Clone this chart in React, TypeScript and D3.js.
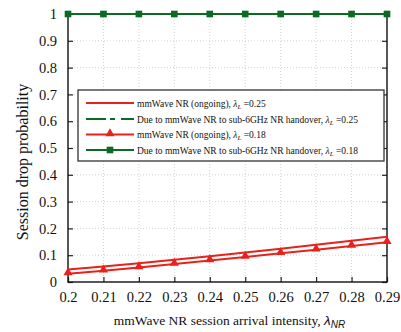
import { useEffect, useRef } from "react";
import * as d3 from "d3";

const xValues = [0.2, 0.21, 0.22, 0.23, 0.24, 0.25, 0.26, 0.27, 0.28, 0.29];
const ongoing025 = [0.047, 0.058, 0.07, 0.083, 0.096, 0.11, 0.124, 0.139, 0.154, 0.169];
const handover025 = [1, 1, 1, 1, 1, 1, 1, 1, 1, 1];
const ongoing018 = [0.031, 0.042, 0.054, 0.067, 0.08, 0.093, 0.107, 0.12, 0.134, 0.148];
const handover018 = [1, 1, 1, 1, 1, 1, 1, 1, 1, 1];
const yTicks = [0, 0.1, 0.2, 0.3, 0.4, 0.5, 0.6, 0.7, 0.8, 0.9, 1];
const legendNames = [
  "mmWave NR (ongoing),",
  "Due to mmWave NR to sub-6GHz NR handover,",
  "mmWave NR (ongoing),",
  "Due to mmWave NR to sub-6GHz NR handover,",
];
const legendLambda = ["0.25", "0.25", "0.18", "0.18"];

const RED = "#e8221b";
const GREEN = "#0b6b24";
const SERIF = "\"Liberation Serif\", \"Times New Roman\", Times, \"DejaVu Serif\", serif";
const SANS = "\"Liberation Sans\", Arial, sans-serif";

export default function App() {
  const svgRef = useRef<SVGSVGElement | null>(null);

  useEffect(() => {
    document.body.style.margin = "0";
    const svg = d3.select(svgRef.current);
    svg.selectAll("*").remove();
    const width = 401;
    const height = 332;
    const margin = { top: 14, right: 14, bottom: 50, left: 68 };

    const x = d3.scaleLinear().domain([0.2, 0.29]).range([margin.left, width - margin.right]);
    const y = d3.scaleLinear().domain([0, 1]).range([height - margin.bottom, margin.top]);
    const [x0, x1] = x.range();
    const [yb, yt] = y.range();

    svg.attr("width", width).attr("height", height).style("font-family", SERIF);

    // grid
    const grid = svg.append("g").attr("stroke", "#c8c8c8").attr("stroke-width", 0.8).attr("stroke-dasharray", "1,2");
    xValues.slice(1, -1).forEach((v) => {
      grid.append("line").attr("x1", x(v)).attr("x2", x(v)).attr("y1", yb).attr("y2", yt);
    });
    yTicks.slice(1, -1).forEach((v) => {
      grid.append("line").attr("x1", x0).attr("x2", x1).attr("y1", y(v)).attr("y2", y(v));
    });

    // axes (inner ticks)
    const axisStyle = (g: d3.Selection<SVGGElement, unknown, null, undefined>) => {
      g.attr("font-family", null).attr("font-size", 14.5);
      g.select(".domain").remove();
      g.selectAll("line").attr("stroke", "#222").attr("stroke-width", 1.2);
      g.selectAll("text").attr("fill", "#111").style("font-family", SERIF);
    };
    svg.append("g")
      .attr("transform", `translate(${x0},0)`)
      .call(d3.axisLeft(y).tickValues(yTicks).tickFormat(d3.format("")).tickSize(-5).tickPadding(11))
      .call(axisStyle);
    svg.append("g")
      .attr("transform", `translate(${x1},0)`)
      .call(d3.axisRight(y).tickValues(yTicks).tickSize(-5).tickFormat(() => ""))
      .call(axisStyle);
    svg.append("g")
      .attr("transform", `translate(0,${yb})`)
      .call(d3.axisBottom(x).tickValues(xValues).tickFormat(d3.format("")).tickSize(-5).tickPadding(10))
      .call(axisStyle);

    svg.append("rect")
      .attr("x", x0).attr("y", yt).attr("width", x1 - x0).attr("height", yb - yt)
      .attr("fill", "none").attr("stroke", "#111").attr("stroke-width", 1.4);

    const line = d3.line<number>().x((_, i) => x(xValues[i])).y((d) => y(d));

    svg.append("path").datum(ongoing025).attr("d", line).attr("fill", "none").attr("stroke", RED).attr("stroke-width", 2);
    svg.append("path").datum(handover025).attr("d", line).attr("fill", "none").attr("stroke", GREEN).attr("stroke-width", 2).attr("stroke-dasharray", "20,4,5,6");
    svg.append("path").datum(ongoing018).attr("d", line).attr("fill", "none").attr("stroke", RED).attr("stroke-width", 2);
    svg.append("path").datum(handover018).attr("d", line).attr("fill", "none").attr("stroke", GREEN).attr("stroke-width", 2);

    const tri = d3.symbol().type(d3.symbolTriangle).size(36);
    const sq = d3.symbol().type(d3.symbolSquare).size(44);
    svg.append("g").selectAll("path").data(ongoing018).join("path")
      .attr("d", tri).attr("fill", RED)
      .attr("transform", (d, i) => `translate(${x(xValues[i])},${y(d) - 1})`);
    svg.append("g").selectAll("path").data(handover018).join("path")
      .attr("d", sq).attr("fill", GREEN)
      .attr("transform", (d, i) => `translate(${x(xValues[i])},${y(d)})`);

    // legend
    const lg = svg.append("g").attr("transform", "translate(78,90)");
    lg.append("rect").attr("width", 306).attr("height", 71).attr("fill", "#fff").attr("stroke", "#333").attr("stroke-width", 1.3);
    const rowY = [13, 29, 44.5, 60];
    const styles = [
      { color: RED, dash: null, marker: null },
      { color: GREEN, dash: "20,4,5,6", marker: null },
      { color: RED, dash: null, marker: tri },
      { color: GREEN, dash: null, marker: sq },
    ];
    legendNames.forEach((name, i) => {
      const row = lg.append("g").attr("transform", `translate(0,${rowY[i]})`);
      const s = styles[i];
      row.append("line").attr("x1", 8).attr("x2", 56).attr("stroke", s.color).attr("stroke-width", 2)
        .attr("stroke-dasharray", s.dash);
      if (s.marker) row.append("path").attr("d", s.marker).attr("fill", s.color).attr("transform", `translate(32,${i === 2 ? -1 : 0})`);
      const t = row.append("text").attr("x", 59).attr("y", 3.5)
        .style("font-family", SERIF).attr("font-size", 9.5).attr("fill", "#111");
      t.append("tspan").text(name + "  ");
      t.append("tspan").attr("font-style", "italic").text("λ");
      t.append("tspan").attr("font-style", "italic").attr("font-size", 7).attr("dy", 2).text("L");
      t.append("tspan").attr("dy", -2).text(" =" + legendLambda[i]);
    });

    // axis labels
    const xl = svg.append("text").attr("x", (x0 + x1) / 2 + 2).attr("y", 325).attr("text-anchor", "middle")
      .style("font-family", SERIF).attr("font-size", 13.5).attr("fill", "#111");
    xl.append("tspan").text("mmWave NR session arrival intensity, ");
    xl.append("tspan").attr("font-style", "italic").style("font-family", SANS).text("λ");
    xl.append("tspan").attr("font-style", "italic").style("font-family", SANS)
      .attr("font-size", 10).attr("dy", 3).text("NR");

    svg.append("text").attr("transform", `translate(28,162) rotate(-90)`).attr("text-anchor", "middle")
      .style("font-family", SERIF).attr("font-size", 16).attr("fill", "#111").text("Session drop probability");
  }, []);

  return <svg ref={svgRef} style={{ display: "block" }} />;
}
